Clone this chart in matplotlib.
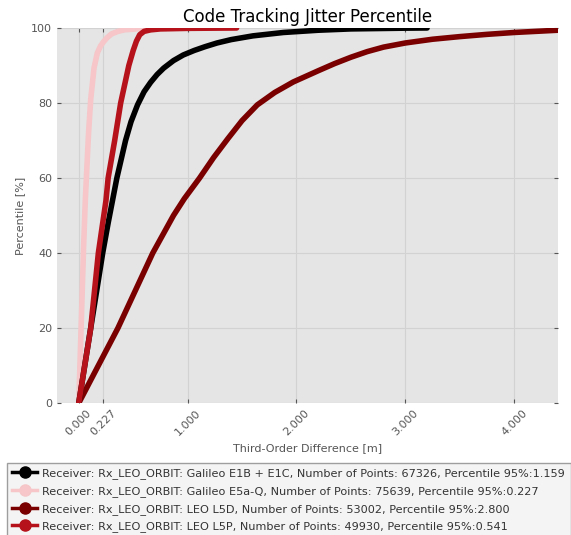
import matplotlib
matplotlib.use("Agg")
import matplotlib.pyplot as plt
from matplotlib.lines import Line2D

# percentile curves: x = third-order difference [m], p = percentile [%]
e1bc_x = [0, 0.055, 0.11, 0.165, 0.22, 0.27, 0.31, 0.35, 0.39, 0.43, 0.48, 0.54, 0.6, 0.66, 0.72,
          0.78, 0.87, 0.96, 1.06, 1.159, 1.27, 1.4, 1.6, 1.88, 2.2, 2.5, 3.0, 3.2]
e1bc_p = [0, 10, 20, 30, 40, 48, 54, 60, 65, 70, 75, 79.5, 83, 85.5, 87.6,
          89.3, 91.3, 92.8, 94, 95, 96, 96.9, 97.9, 98.8, 99.4, 99.75, 99.95, 100]

e5aq_x = [0, 0.015, 0.03, 0.045, 0.06, 0.075, 0.09, 0.11, 0.14, 0.17, 0.2, 0.227, 0.26, 0.3,
          0.36, 0.42, 0.55, 0.8, 1.42]
e5aq_p = [0, 14, 28, 42, 54, 63, 72, 81, 89.3, 93.3, 95.2, 96.3, 97.4, 98.4,
          99.1, 99.5, 99.8, 99.95, 100]

l5d_x = [0, 0.18, 0.36, 0.52, 0.68, 0.87, 0.97, 1.11, 1.24, 1.37, 1.5, 1.64, 1.8, 1.97, 2.2,
         2.35, 2.5, 2.65, 2.8, 3.0, 3.25, 3.5, 3.75, 4.0, 4.4]
l5d_p = [0, 10, 20, 30, 40, 50, 54.5, 60, 65.5, 70.5, 75.3, 79.5, 82.8, 85.6, 88.6,
         90.5, 92.2, 93.7, 94.9, 96, 97, 97.7, 98.3, 98.8, 99.4]

l5p_x = [0, 0.055, 0.11, 0.145, 0.18, 0.25, 0.27, 0.33, 0.385, 0.43, 0.46, 0.5, 0.53, 0.56,
         0.6, 0.66, 0.75, 1.0, 1.45]
l5p_p = [0, 10, 20, 30, 40, 54, 60, 70, 80, 86, 90, 94, 96.5, 98.2,
         99.1, 99.5, 99.75, 99.9, 100]

labels = [
    "Receiver: Rx_LEO_ORBIT: Galileo E1B + E1C, Number of Points: 67326, Percentile 95%:1.159",
    "Receiver: Rx_LEO_ORBIT: Galileo E5a-Q, Number of Points: 75639, Percentile 95%:0.227",
    "Receiver: Rx_LEO_ORBIT: LEO L5D, Number of Points: 53002, Percentile 95%:2.800",
    "Receiver: Rx_LEO_ORBIT: LEO L5P, Number of Points: 49930, Percentile 95%:0.541",
]
colors = ["#000000", "#f6c6c8", "#7a0000", "#b5121b"]
xticks = [0.0, 0.227, 1.0, 2.0, 3.0, 4.0]

fig = plt.figure(figsize=(5.71, 5.35), dpi=100)
ax = fig.add_axes([0.0998, 0.2467, 0.877, 0.701])
ax.set_facecolor("#e5e5e5")

# pink first so it lies under the others
series = [(e5aq_x, e5aq_p, colors[1]), (l5d_x, l5d_p, colors[2]),
          (e1bc_x, e1bc_p, colors[0]), (l5p_x, l5p_p, colors[3])]
for x, p, c in series:
    ax.plot(x, p, color=c, lw=4, solid_capstyle="round", solid_joinstyle="round", zorder=3)

ax.set_xlim(-0.2, 4.4)
ax.set_ylim(0, 100)
ax.set_xticks(xticks)
ax.set_xticklabels(["%.3f" % t for t in xticks], rotation=45)
ax.set_yticks(range(0, 101, 20))
ax.tick_params(direction="in", length=3, colors="#555555", labelsize=8,
               top=True, right=True)
ax.grid(True, color="#d2d2d2", lw=0.8, zorder=0)
for s in ax.spines.values():
    s.set_visible(False)

ax.set_title("Code Tracking Jitter Percentile", fontsize=12, pad=4)
ax.set_xlabel("Third-Order Difference [m]", fontsize=8, color="#555555")
ax.set_ylabel("Percentile [%]", fontsize=8, color="#555555")

handles = [Line2D([], [], color=c, lw=2.5, marker="o", ms=8) for c in colors]
leg = fig.legend(handles, labels, loc="upper left", bbox_to_anchor=(0.012, 0.135),
                 bbox_transform=fig.transFigure, borderaxespad=0, fontsize=8.1,
                 labelspacing=0.6, handlelength=2.2, handletextpad=0.45,
                 borderpad=0.5, frameon=True, fancybox=False)
leg.get_frame().set_facecolor("#f2f2f2")
leg.get_frame().set_edgecolor("#888888")
for t in leg.get_texts():
    t.set_color("#333333")

fig.savefig("out.png", dpi=100)
